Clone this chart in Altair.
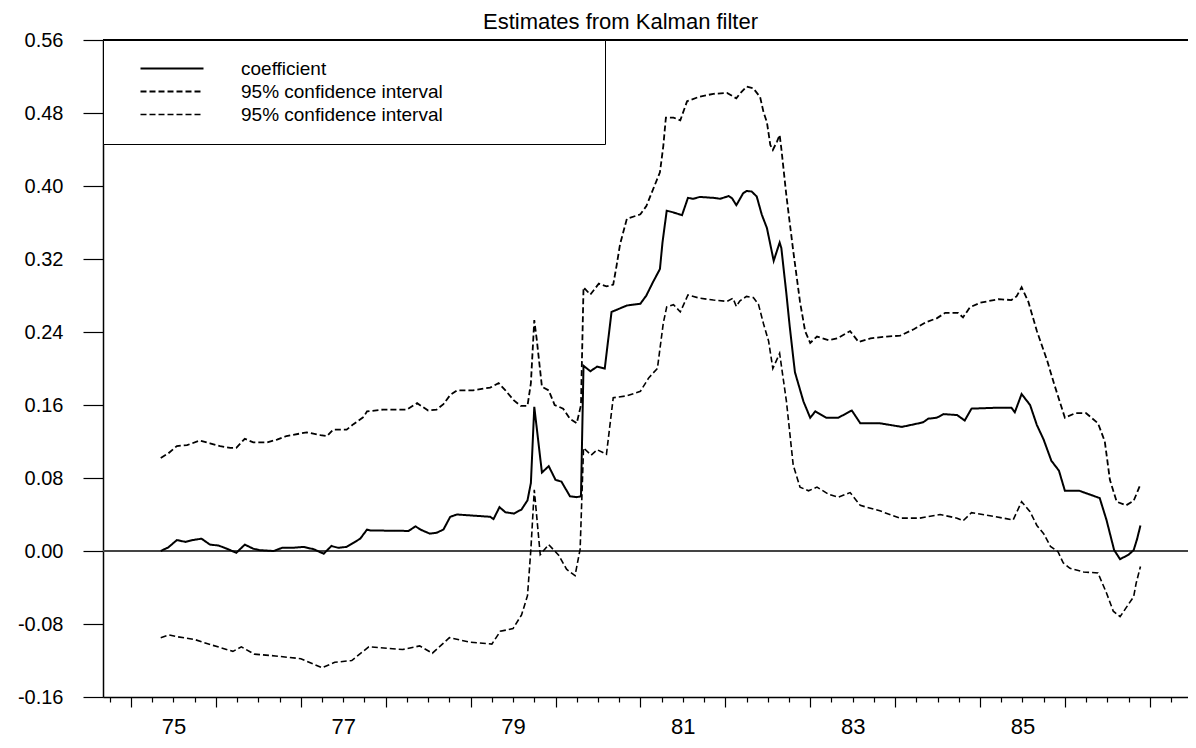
import altair as alt
import pandas as pd

# ---- data (year, value) ----
coef_year = [1975.35, 1975.44, 1975.54, 1975.64, 1975.73, 1975.83, 1975.93, 1976.03, 1976.13, 1976.24,
             1976.34, 1976.44, 1976.51, 1976.68, 1976.78, 1976.91, 1977.03, 1977.15, 1977.27, 1977.36,
             1977.44, 1977.54, 1977.62, 1977.70, 1977.78, 1977.82, 1978.27, 1978.35, 1978.42, 1978.52,
             1978.60, 1978.68, 1978.76, 1978.84, 1979.23, 1979.27, 1979.34, 1979.41, 1979.51, 1979.60,
             1979.67, 1979.71, 1979.75, 1979.84, 1979.92, 1980.00, 1980.07, 1980.17, 1980.25, 1980.30,
             1980.33, 1980.41, 1980.49, 1980.58, 1980.66, 1980.84, 1981.00, 1981.07, 1981.15, 1981.23,
             1981.26, 1981.31, 1981.39, 1981.49, 1981.56, 1981.62, 1981.70, 1981.86, 1981.94, 1982.04,
             1982.08, 1982.13, 1982.21, 1982.25, 1982.31, 1982.37, 1982.43, 1982.49, 1982.53, 1982.57,
             1982.64, 1982.66, 1982.72, 1982.76, 1982.82, 1982.92, 1983.00, 1983.06, 1983.19, 1983.33,
             1983.49, 1983.59, 1983.82, 1984.08, 1984.33, 1984.39, 1984.49, 1984.57, 1984.73, 1984.82,
             1984.90, 1985.20, 1985.37, 1985.41, 1985.49, 1985.59, 1985.67, 1985.75, 1985.84, 1985.93,
             1986.00, 1986.17, 1986.41, 1986.49, 1986.58, 1986.65, 1986.75, 1986.81, 1986.85, 1986.89]
coef_value = [0.000, 0.004, 0.012, 0.010, 0.012, 0.0135, 0.007, 0.006, 0.0025, -0.002,
              0.007, 0.0025, 0.001, 0.000, 0.0035, 0.0035, 0.0045, 0.002, -0.003, 0.0055,
              0.0035, 0.0045, 0.009, 0.0135, 0.0235, 0.0225, 0.022, 0.027, 0.023, 0.019,
              0.020, 0.0235, 0.0375, 0.040, 0.0375, 0.035, 0.048, 0.0425, 0.041, 0.0455,
              0.0555, 0.0745, 0.158, 0.086, 0.093, 0.078, 0.076, 0.060, 0.059, 0.060,
              0.203, 0.197, 0.202, 0.200, 0.262, 0.269, 0.271, 0.280, 0.295, 0.309,
              0.338, 0.373, 0.371, 0.368, 0.387, 0.386, 0.388, 0.387, 0.386, 0.389,
              0.3865, 0.379, 0.392, 0.3945, 0.394, 0.3885, 0.3685, 0.354, 0.336, 0.318,
              0.338, 0.332, 0.2815, 0.245, 0.196, 0.164, 0.146, 0.153, 0.146, 0.146,
              0.154, 0.140, 0.140, 0.136, 0.141, 0.145, 0.146, 0.150, 0.149, 0.143,
              0.156, 0.157, 0.157, 0.152, 0.172, 0.160, 0.138, 0.122, 0.099, 0.088,
              0.066, 0.066, 0.058, 0.034, 0.001, -0.009, -0.004, 0.001, 0.013, 0.028]

upper_year = [1975.35, 1975.44, 1975.54, 1975.66, 1975.81, 1975.93, 1976.05, 1976.17, 1976.24, 1976.34,
              1976.44, 1976.60, 1976.72, 1976.83, 1977.07, 1977.23, 1977.31, 1977.38, 1977.54, 1977.62,
              1977.74, 1977.78, 1977.97, 1978.25, 1978.37, 1978.50, 1978.60, 1978.68, 1978.76, 1978.84,
              1979.03, 1979.15, 1979.23, 1979.33, 1979.41, 1979.51, 1979.59, 1979.67, 1979.71, 1979.75,
              1979.78, 1979.84, 1979.92, 1979.99, 1980.09, 1980.17, 1980.25, 1980.30, 1980.33, 1980.41,
              1980.51, 1980.60, 1980.68, 1980.72, 1980.76, 1980.84, 1981.00, 1981.07, 1981.15, 1981.23,
              1981.27, 1981.30, 1981.39, 1981.47, 1981.55, 1981.70, 1981.86, 1982.02, 1982.13, 1982.17,
              1982.25, 1982.33, 1982.41, 1982.45, 1982.49, 1982.53, 1982.56, 1982.61, 1982.64, 1982.66,
              1982.72, 1982.80, 1982.88, 1982.94, 1983.00, 1983.08, 1983.22, 1983.32, 1983.47, 1983.57,
              1983.71, 1983.90, 1984.06, 1984.22, 1984.37, 1984.49, 1984.59, 1984.74, 1984.80, 1984.88,
              1985.00, 1985.22, 1985.37, 1985.43, 1985.49, 1985.57, 1985.67, 1985.79, 1985.87, 1986.00,
              1986.12, 1986.25, 1986.39, 1986.47, 1986.53, 1986.61, 1986.72, 1986.81, 1986.89]
upper_value = [0.102, 0.107, 0.115, 0.116, 0.121, 0.118, 0.115, 0.113, 0.113, 0.123,
               0.119, 0.119, 0.122, 0.126, 0.130, 0.127, 0.126, 0.133, 0.133, 0.139,
               0.147, 0.153, 0.155, 0.155, 0.162, 0.154, 0.155, 0.161, 0.171, 0.176,
               0.176, 0.178, 0.179, 0.184, 0.176, 0.165, 0.159, 0.159, 0.184, 0.253,
               0.231, 0.180, 0.176, 0.160, 0.156, 0.145, 0.140, 0.160, 0.289, 0.281,
               0.293, 0.290, 0.292, 0.313, 0.336, 0.364, 0.369, 0.378, 0.3965, 0.415,
               0.444, 0.475, 0.475, 0.472, 0.493, 0.498, 0.501, 0.502, 0.496, 0.501,
               0.509, 0.507, 0.4975, 0.481, 0.470, 0.445, 0.4395, 0.449, 0.456, 0.441,
               0.389, 0.329, 0.273, 0.241, 0.228, 0.235, 0.231, 0.233, 0.241, 0.229,
               0.233, 0.235, 0.236, 0.243, 0.251, 0.255, 0.261, 0.261, 0.256, 0.267,
               0.272, 0.276, 0.275, 0.279, 0.289, 0.273, 0.241, 0.209, 0.184, 0.146,
               0.151, 0.151, 0.140, 0.120, 0.078, 0.054, 0.050, 0.055, 0.073]

lower_year = [1975.35, 1975.45, 1975.55, 1975.75, 1975.95, 1976.20, 1976.30, 1976.45, 1976.70, 1977.00,
              1977.25, 1977.40, 1977.60, 1977.80, 1978.20, 1978.40, 1978.55, 1978.75, 1979.00, 1979.25,
              1979.35, 1979.50, 1979.60, 1979.67, 1979.71, 1979.75, 1979.82, 1979.92, 1980.04, 1980.13,
              1980.23, 1980.29, 1980.33, 1980.42, 1980.49, 1980.60, 1980.68, 1980.84, 1981.00, 1981.10,
              1981.20, 1981.27, 1981.31, 1981.39, 1981.47, 1981.56, 1981.70, 1981.86, 1982.02, 1982.09,
              1982.13, 1982.17, 1982.25, 1982.33, 1982.39, 1982.45, 1982.51, 1982.56, 1982.64, 1982.72,
              1982.80, 1982.88, 1982.98, 1983.08, 1983.22, 1983.33, 1983.47, 1983.59, 1983.82, 1984.06,
              1984.29, 1984.53, 1984.73, 1984.80, 1984.90, 1985.16, 1985.39, 1985.49, 1985.59, 1985.67,
              1985.75, 1985.83, 1985.92, 1985.98, 1986.06, 1986.22, 1986.39, 1986.43, 1986.49, 1986.57,
              1986.65, 1986.73, 1986.81, 1986.84, 1986.89]
lower_value = [-0.095, -0.092, -0.094, -0.097, -0.103, -0.110, -0.105, -0.113, -0.115, -0.118,
               -0.128, -0.122, -0.120, -0.105, -0.108, -0.104, -0.112, -0.095, -0.100, -0.102,
               -0.088, -0.085, -0.070, -0.049, 0.002, 0.067, -0.004, 0.007, -0.005, -0.020,
               -0.027, 0.002, 0.113, 0.105, 0.111, 0.106, 0.168, 0.170, 0.175, 0.190,
               0.200, 0.250, 0.2675, 0.270, 0.262, 0.2805, 0.277, 0.275, 0.2736, 0.277,
               0.268, 0.274, 0.279, 0.2777, 0.2705, 0.249, 0.230, 0.200, 0.2165, 0.164,
               0.094, 0.070, 0.066, 0.070, 0.062, 0.059, 0.064, 0.050, 0.044, 0.036,
               0.036, 0.040, 0.036, 0.033, 0.042, 0.038, 0.034, 0.054, 0.043, 0.028,
               0.019, 0.005, -0.001, -0.013, -0.019, -0.023, -0.024, -0.033, -0.046, -0.066,
               -0.072, -0.061, -0.050, -0.035, -0.017]

series_names = ["coefficient", "upper", "lower"]
y_ticks = [-0.16, -0.08, 0.0, 0.08, 0.16, 0.24, 0.32, 0.40, 0.48, 0.56]
x_ticks = [1974.75 + 0.25 * k for k in range(51)]  # quarterly ticks
title_text = "Estimates from Kalman filter"

rows = []
for name, ys, vs in zip(series_names,
                        [coef_year, upper_year, lower_year],
                        [coef_value, upper_value, lower_value]):
    for i, (yr, v) in enumerate(zip(ys, vs)):
        rows.append({"series": name, "year": yr, "value": v, "i": i})
df = pd.DataFrame(rows)

FONT = "Liberation Sans"
PAD = "\u00a0" * 27 + "\u200b"   # invisible padding so the legend frame is as wide as the reference

x_scale = alt.Scale(domain=[1974.67, 1987.45], nice=False, zero=False)
y_scale = alt.Scale(domain=[-0.16, 0.56], nice=False, zero=False)

x_axis = alt.Axis(
    values=x_ticks, title=None, grid=False,
    labelExpr="datum.value % 2 === 1.5 ? format(floor(datum.value) % 100, 'd') : ''",
    labelFont=FONT, labelFontSize=22, labelColor="black", labelPadding=14,
    labelOverlap=False, labelFlush=False,
    tickColor="black", tickWidth=1.2,
    tickSize={"condition": {"test": "datum.value % 1 === 0", "value": 10}, "value": 5},
    domainColor="black", domainWidth=1.5,
)
y_axis = alt.Axis(
    values=y_ticks, title=None, grid=False,
    labelExpr="datum.value < 0 ? '-' + format(-datum.value, '.2f') : format(datum.value, '.2f')",
    labelFont=FONT, labelFontSize=20, labelColor="black", labelPadding=20,
    tickColor="black", tickWidth=1.2, tickSize=20,
    domainColor="black", domainWidth=1.5,
)

legend = alt.Legend(
    orient="none", legendX=0, legendY=0, title=None,
    symbolType="M-6.3,0H6.3", symbolSize=100, symbolStrokeWidth=1.6,
    symbolStrokeColor="black", symbolOffset=40.5,
    labelFont=FONT, labelFontSize=19, labelColor="black", labelOffset=59.5,
    labelLimit=2000, rowPadding=3, padding=19,
    strokeColor="black", fillColor="white",
    labelExpr="datum.label === 'coefficient' ? 'coefficient' : '95% confidence interval" + PAD + "'",
)

lines = alt.Chart(df).mark_line(color="black").encode(
    x=alt.X("year:Q", scale=x_scale, axis=x_axis),
    y=alt.Y("value:Q", scale=y_scale, axis=y_axis),
    strokeDash=alt.StrokeDash(
        "series:N",
        scale=alt.Scale(domain=series_names, range=[[1, 0], [6, 3], [6, 3]]),
        legend=legend,
    ),
    strokeWidth=alt.StrokeWidth(
        "series:N",
        scale=alt.Scale(domain=series_names, range=[2.0, 1.6, 1.6]),
        legend=None,
    ),
    order="i:Q",
)

zero_rule = alt.Chart(df).mark_rule(color="#444", strokeWidth=1.2).encode(
    y=alt.datum(0.0, scale=y_scale)
)
top_rule = alt.Chart(df).mark_rule(color="black", strokeWidth=1.5).encode(
    y=alt.datum(0.56, scale=y_scale)
)

chart = alt.layer(zero_rule, top_rule, lines).properties(
    width=1085, height=657,
    padding={"left": 95, "top": 32, "right": 0, "bottom": 45},
    autosize=alt.AutoSizeParams(type="none"),
    title=alt.TitleParams(title_text, font=FONT, fontSize=22, fontWeight="normal",
                          color="black", anchor="middle", dx=-25, dy=4, offset=0),
).configure_view(stroke=None).configure(background="white")

chart.save("out.html", embed_options={"renderer": "svg", "actions": False})
